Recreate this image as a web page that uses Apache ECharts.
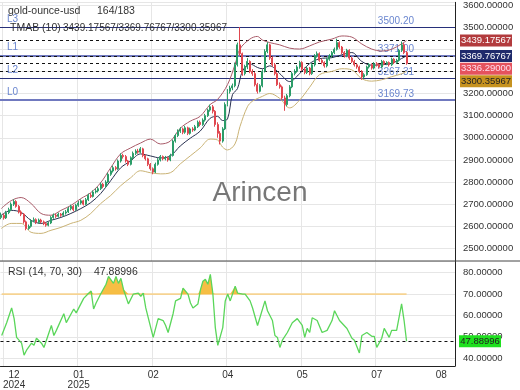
<!DOCTYPE html>
<html><head><meta charset="utf-8">
<script src="https://cdn.jsdelivr.net/npm/echarts@6/dist/echarts.min.js"></script>
<style>html,body{margin:0;padding:0;background:#fff}#c{width:520px;height:390px}</style>
</head><body><div id="c"></div><script>
const instrument = 'gold-ounce-usd';
const barCounter = '164/183';
const totalSlots = 183;
const opens = [2640,2650,2638,2662,2675,2700,2712,2690,2665,2655,
2620,2590,2600,2625,2630,2618,2628,2620,2612,2605,
2615,2640,2650,2645,2655,2650,2660,2665,2680,2690,
2675,2695,2705,2715,2700,2720,2740,2735,2755,2760,
2770,2790,2780,2800,2835,2850,2865,2860,2895,2920,
2915,2895,2880,2910,2930,2940,2935,2950,2920,2905,
2880,2860,2845,2880,2900,2915,2905,2910,2900,2920,
2985,3010,3030,3040,3025,3045,3020,3040,3035,3050,
3070,3060,3080,3100,3125,3140,3120,3060,3020,2985,
3040,3150,3210,3225,3235,3330,3420,3380,3290,3320,
3345,3300,3290,3240,3210,3235,3300,3390,3420,3360,
3330,3290,3240,3230,3180,3150,3190,3230,3290,3300,
3320,3340,3310,3295,3315,3290,3330,3370,3380,3350,
3340,3325,3355,3370,3385,3400,3430,3410,3385,3370,
3395,3360,3345,3330,3320,3300,3275,3285,3320,3330,
3315,3335,3330,3320,3345,3335,3340,3330,3355,3340,
3350,3395,3420,3385];
const closes = [2650,2638,2662,2675,2700,2712,2690,2665,2655,2620,
2590,2600,2625,2630,2618,2628,2620,2612,2605,2615,
2640,2650,2645,2655,2650,2660,2665,2680,2690,2675,
2695,2705,2715,2700,2720,2740,2735,2755,2760,2770,
2790,2780,2800,2835,2850,2865,2860,2895,2920,2915,
2895,2880,2910,2930,2940,2935,2950,2920,2905,2880,
2860,2845,2880,2900,2915,2905,2910,2900,2920,2985,
3010,3030,3040,3025,3045,3020,3040,3035,3050,3070,
3060,3080,3100,3125,3140,3120,3060,3020,2985,3040,
3150,3210,3225,3235,3330,3420,3380,3290,3320,3345,
3300,3290,3240,3210,3235,3300,3390,3420,3360,3330,
3290,3240,3230,3180,3150,3190,3230,3290,3300,3320,
3340,3310,3295,3315,3290,3330,3370,3380,3350,3340,
3325,3355,3370,3385,3400,3430,3410,3385,3370,3395,
3360,3345,3330,3320,3300,3275,3285,3320,3330,3315,
3335,3330,3320,3345,3335,3340,3330,3355,3340,3350,
3395,3420,3385,3336.29];
const lows = [2632,2630,2633,2655,2668,2692,2684,2658,2646,2612,
2582,2584,2594,2618,2610,2612,2613,2605,2598,2600,
2610,2634,2638,2640,2643,2644,2653,2660,2672,2668,
2670,2688,2698,2694,2695,2714,2728,2730,2748,2753,
2764,2772,2774,2795,2828,2843,2852,2855,2888,2906,
2888,2872,2875,2903,2922,2928,2930,2912,2897,2872,
2852,2835,2840,2874,2893,2898,2898,2892,2894,2915,
2978,3003,3022,3016,3018,3012,3014,3027,3030,3044,
3052,3054,3073,3094,3118,3110,3050,3000,2970,2978,
3035,3142,3200,3215,3228,3322,3370,3280,3282,3310,
3292,3280,3232,3200,3205,3228,3295,3382,3352,3322,
3282,3234,3222,3172,3122,3142,3183,3224,3282,3294,
3312,3302,3287,3288,3282,3284,3322,3362,3343,3332,
3317,3318,3348,3362,3378,3394,3402,3378,3362,3364,
3352,3338,3322,3312,3292,3262,3268,3280,3313,3308,
3309,3322,3313,3314,3328,3328,3322,3324,3333,3334,
3344,3388,3378,3330];
const highs = [2662,2658,2670,2684,2708,2722,2718,2696,2672,2660,
2626,2608,2632,2640,2636,2635,2634,2626,2618,2622,
2646,2658,2656,2662,2660,2668,2674,2688,2698,2696,
2702,2714,2722,2720,2728,2748,2750,2762,2770,2778,
2798,2796,2808,2842,2858,2874,2872,2902,2930,2928,
2922,2900,2916,2938,2948,2950,2958,2955,2926,2910,
2886,2866,2888,2908,2922,2920,2918,2915,2928,2992,
3018,3038,3048,3046,3054,3050,3046,3048,3058,3078,
3078,3088,3108,3132,3150,3148,3125,3070,3030,3048,
3160,3220,3235,3245,3340,3430,3500,3385,3330,3360,
3350,3310,3298,3248,3242,3310,3400,3432,3425,3368,
3338,3296,3250,3236,3190,3198,3238,3298,3310,3328,
3348,3346,3318,3322,3320,3338,3378,3390,3386,3358,
3346,3362,3378,3392,3408,3448,3436,3415,3392,3402,
3400,3366,3352,3336,3326,3306,3292,3326,3338,3336,
3342,3342,3336,3352,3350,3346,3345,3362,3360,3357,
3402,3435,3428,3392];
const bandUpper = [[0,2680],[4,2716],[8,2730],[12,2703],[16,2658],[20,2650],[24,2672],[28,2694],[32,2725],[36,2752],[40,2797],[44,2864],[48,2927],[52,2954],[56,2976],[60,2994],[64,2972],[68,2985],[72,3043],[76,3075],[80,3097],[84,3150],[87,3173],[91,3240],[94,3330],[96,3401],[100,3446],[103,3458],[105,3442],[108,3430],[112,3420],[116,3405],[120,3401],[124,3415],[128,3433],[133,3446],[137,3460],[141,3455],[145,3424],[149,3401],[153,3392],[157,3400],[161,3424],[163,3439.17567]];
const bandMid = [[0,2650],[4,2672],[8,2663],[12,2627],[16,2613],[20,2627],[24,2640],[28,2658],[32,2680],[36,2707],[40,2748],[44,2806],[48,2864],[52,2895],[56,2927],[60,2918],[64,2909],[68,2918],[72,2963],[76,2998],[80,3030],[84,3088],[87,3097],[89,3078],[91,3085],[93,3195],[95,3222],[97,3300],[100,3334],[103,3318],[105,3312],[108,3325],[112,3290],[116,3254],[120,3290],[124,3335],[128,3357],[133,3362],[137,3375],[141,3385],[145,3345],[149,3328],[153,3330],[157,3336],[161,3358],[163,3369.76767]];
const bandLower = [[0,2590],[4,2613],[8,2613],[12,2573],[16,2568],[20,2582],[24,2595],[28,2613],[32,2627],[36,2658],[40,2703],[44,2739],[48,2783],[52,2819],[56,2851],[60,2842],[64,2837],[68,2842],[72,2882],[76,2918],[80,2954],[84,2994],[87,2990],[89,2958],[91,2945],[94,2972],[96,3050],[99,3140],[101,3165],[105,3187],[108,3200],[112,3178],[116,3135],[120,3170],[124,3228],[128,3285],[133,3300],[137,3312],[141,3307],[145,3267],[149,3256],[153,3262],[157,3276],[161,3289],[163,3300.35967]];
const tmabLast = [3439.17567, 3369.76767, 3300.35967];
const lastPrice = 3336.29;
const levelNames = ['L3','L1','L2','L0'];
const levelValues = [3500.20, 3371.00, 3267.31, 3169.73];
const rsi = [[0,50.6],[2,56.6],[4,63.5],[5,58.5],[6,49.7],[8,47],[9,41.4],[10,43.7],[12,47],[13,46],[14,49.3],[16,47],[17,45],[18,48.4],[20,55.3],[21,50.6],[22,53],[25,60.8],[26,56.6],[29,63],[30,61.2],[33,68],[35,70.4],[36,71.4],[37,63],[38,65.8],[40,70.4],[42,74.6],[43,78.3],[45,75],[46,78.3],[47,75],[48,77.4],[49,72.3],[51,65.4],[53,70],[55,70.4],[56,69],[57,70.4],[58,63.5],[60,54.3],[61,49.7],[63,58.5],[65,57.6],[66,55.3],[67,52],[69,60.8],[70,66.8],[72,68],[73,72.8],[75,70],[76,65.8],[77,63.5],[79,65.4],[80,72],[81,76],[82,76.9],[83,74.6],[84,79.2],[85,70.4],[86,54.3],[87,46],[89,54.3],[90,66.8],[91,70],[92,66.8],[94,73.7],[95,70.4],[97,70],[98,70],[100,66.8],[101,63.5],[103,55.3],[106,66.8],[107,62.2],[109,57.6],[110,50.6],[111,49.7],[112,45],[113,48.4],[115,52],[117,56.6],[119,58.5],[121,55.3],[122,49.7],[123,53.9],[124,52],[125,58.9],[127,57.6],[129,52],[131,53],[133,57.6],[134,62.2],[136,57.6],[139,53.9],[141,49.3],[142,48.4],[144,42.4],[145,50.6],[147,52],[149,50.2],[150,50.2],[151,45],[153,49.3],[154,53.9],[156,49.7],[157,53],[159,53],[161,65.4],[162,57.6],[163,47.88996]];
const rsiLast = 47.88996;
const rsiUpper = 70;
const rsiLevelLine = [[0,70],[163,70]];
const tickIdx = [5,31,61,91,121,151,177];
const tickText = ['12\n2024','01\n2025','02','04','05','07','08'];
const gridIdx = [1,31,61,91,121,151];

const cats = Array.from({length: totalSlots}, (_, i) => 'b' + i);
const font = 'Liberation Sans, Arial, sans-serif';
const chart = echarts.init(document.getElementById('c'), null, {renderer:'canvas'});
const candles = opens.map((o, i) => [o, closes[i], lows[i], highs[i]]);
// overbought fill: the RSI values held at the 70 level where they are below it
const rsiOverbought = rsi.map(p => [p[0], Math.max(p[1], rsiUpper)]);

const levelStyle = [
  {color:'#27307a', width:1}, {color:'#7079bf', width:2}, {color:'#27307a', width:1}, {color:'#7079bf', width:2}
];
const mlData = [];
levelValues.forEach((v, i) => {
  mlData.push({yAxis: v, lineStyle: {color: levelStyle[i].color, width: levelStyle[i].width, type:'solid'},
    label: {show:true, position:'insideEndTop', distance:[41,1], formatter: v.toFixed(2), color:'#6a86cf', fontSize:10, fontFamily:font}});
  mlData.push({yAxis: v, lineStyle: {color:'rgba(0,0,0,0)', width:1}, label: {show:true, position:'insideStartTop', distance:[7,3], formatter: levelNames[i], color:'#6a86cf', fontSize:10, fontFamily:font}});
});
[tmabLast[0], tmabLast[1], lastPrice, tmabLast[2]].forEach(v => {
  mlData.push({yAxis: v, lineStyle: {color:'#111', width:1, type:[3,3]}, label:{show:false}});
});

const gridLine = {show:true, lineStyle:{color:'#e6e6e6', width:1}};
const option = {
  animation:false,
  textStyle:{fontFamily:font},
  grid:[{left:0, width:455, top:0, height:261}, {left:0, width:455, top:261, height:107}],
  xAxis:[
    {type:'category', gridIndex:0, data:cats, axisLine:{show:false}, axisTick:{show:false}, axisLabel:{show:false},
      splitLine:{show:true, interval:(i)=>gridIdx.includes(i), lineStyle:{color:'#e6e6e6'}}},
    {type:'category', gridIndex:1, data:cats, axisLine:{show:true, lineStyle:{color:'#222'}}, axisTick:{show:false},
      axisLabel:{interval:(i)=>tickIdx.includes(i), formatter:(v, i)=>tickText[tickIdx.indexOf(i)], fontSize:10, color:'#333', lineHeight:10, margin:4},
      splitLine:{show:true, interval:(i)=>gridIdx.includes(i), lineStyle:{color:'#e6e6e6'}}}
  ],
  yAxis:[
    {type:'value', gridIndex:0, position:'right', min:2443.2, max:3612, splitNumber:12,
      axisLine:{show:true, lineStyle:{color:'#222'}}, axisTick:{show:false},
      axisLabel:{formatter:(v)=>v.toFixed(5), showMinLabel:false, showMaxLabel:false, fontSize:9.5, color:'#333', margin:8},
      splitLine:gridLine},
    {type:'value', gridIndex:1, position:'right', min:36.3, max:85.5, splitNumber:5,
      axisLine:{show:true, lineStyle:{color:'#222'}}, axisTick:{show:false},
      axisLabel:{formatter:(v)=>v.toFixed(5), showMinLabel:false, showMaxLabel:false, fontSize:9.5, color:'#333', margin:8},
      splitLine:gridLine}
  ],
  series:[
    {type:'candlestick', xAxisIndex:0, yAxisIndex:0, data:candles, barWidth:'60%', z:5,
      itemStyle:{color:'#2b9c68', color0:'#e0474f', borderColor:'#2b9c68', borderColor0:'#e0474f', borderWidth:1}},
    {type:'line', xAxisIndex:0, yAxisIndex:0, data:bandUpper, smooth:0.35, showSymbol:false, lineStyle:{color:'#a85a68', width:1}, z:4},
    {type:'line', xAxisIndex:0, yAxisIndex:0, data:bandMid, smooth:0.35, showSymbol:false, lineStyle:{color:'#283050', width:1}, z:4,
      markLine:{silent:true, symbol:['none','none'], data:mlData, z:3}},
    {type:'line', xAxisIndex:0, yAxisIndex:0, data:bandLower, smooth:0.35, showSymbol:false, lineStyle:{color:'#c9b274', width:1}, z:4},
    {type:'line', xAxisIndex:1, yAxisIndex:1, data:rsi, showSymbol:false, lineStyle:{color:'#5ad65a', width:1.3}, z:6,
      markLine:{silent:true, symbol:['none','none'], label:{show:false},
        data:[{yAxis:rsiLast, lineStyle:{color:'#111', width:1, type:[3,3]}}]}},
    {type:'line', xAxisIndex:1, yAxisIndex:1, data:rsiOverbought, showSymbol:false, lineStyle:{opacity:0, width:0},
      areaStyle:{origin:rsiUpper, color:'#f6bb3a', opacity:0.95}, z:3},
    {type:'line', xAxisIndex:1, yAxisIndex:1, data:rsiLevelLine, showSymbol:false, lineStyle:{color:'#f6d392', width:1.6}, z:2}
  ],
  graphic:[
    {type:'text', left:8, top:6, z:50, style:{text:instrument, fontSize:10.5, fill:'#333', fontFamily:font}},
    {type:'text', left:97, top:6, z:50, style:{text:barCounter, fontSize:10.5, fill:'#333', fontFamily:font}},
    {type:'text', left:10, top:23, z:50, style:{text:'TMAB (10)', fontSize:10.5, fill:'#333', fontFamily:font}},
    {type:'text', left:63, top:23, z:50, style:{text:tmabLast.map(v=>v.toFixed(5)).join('/'), fontSize:10, fill:'#333', fontFamily:font}},
    {type:'text', left:8, top:267, z:50, style:{text:'RSI (14, 70, 30)', fontSize:10.5, fill:'#333', fontFamily:font}},
    {type:'text', left:94, top:267, z:50, style:{text:rsiLast.toFixed(5), fontSize:10.5, fill:'#333', fontFamily:font}},
    {type:'text', x:260, y:193, z:40, style:{text:'Arincen', fontSize:28, fill:'rgba(95,95,95,0.85)', fontFamily:font, align:'center', verticalAlign:'middle'}},
    {type:'line', z:45, shape:{x1:0, y1:261, x2:520, y2:261}, style:{stroke:'#444', lineWidth:1}}
  ]
};
chart.setOption(option);

const badgeVals = [tmabLast[0], tmabLast[1], lastPrice, tmabLast[2]];
const badgeBg = ['#b23b3d', '#1f2a6b', '#e5525d', '#c6921f'];
const badgeFg = ['#fff', '#fff', '#fde', '#222'];
let prev = -1e9;
const badges = [];
const ys = [];
badgeVals.forEach((v, i) => {
  let y = chart.convertToPixel({yAxisIndex:0}, v);
  y = Math.max(y, prev + 12.7);
  prev = y;
  ys.push(y);
  badges.push({type:'rect', z:60, shape:{x:460, y:y-6, width:52, height:12}, style:{fill:badgeBg[i]}});
  badges.push({type:'text', z:61, x:486, y:y, style:{text:v.toFixed(5), fontSize:9.5, fill:badgeFg[i], fontFamily:font, align:'center', verticalAlign:'middle'}});
});
// white backing behind the badge stack so covered axis labels do not peek through
badges.push({type:'rect', z:59, shape:{x:457, y:ys[0]-6, width:63, height:ys[ys.length-1]-ys[0]+12}, style:{fill:'#fff'}});
const ry = chart.convertToPixel({yAxisIndex:1}, rsiLast);
badges.push({type:'rect', z:60, shape:{x:459, y:ry-6, width:42, height:12}, style:{fill:'#1fe01f'}});
badges.push({type:'text', z:61, x:480, y:ry, style:{text:rsiLast.toFixed(5), fontSize:9.5, fill:'#222', fontFamily:font, align:'center', verticalAlign:'middle'}});
chart.setOption({graphic: option.graphic.concat(badges)});
</script></body></html>
